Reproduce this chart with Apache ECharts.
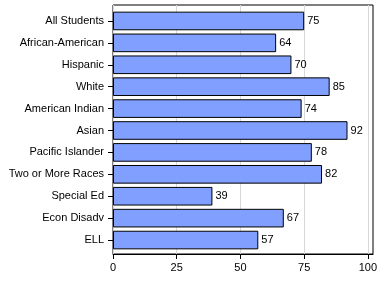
<!DOCTYPE html>
<html>
<head>
<meta charset="utf-8">
<style>html,body{margin:0;padding:0;background:#fff;}#c{width:384px;height:288px;}</style>
<script src="https://cdn.jsdelivr.net/npm/echarts@6/dist/echarts.min.js"></script>
</head>
<body>
<div id="c"></div>
<script>
var categories = ['All Students','African-American','Hispanic','White','American Indian','Asian','Pacific Islander','Two or More Races','Special Ed','Econ Disadv','ELL'];
var values = [75,64,70,85,74,92,78,82,39,67,57];
var xTicks = [0,25,50,75,100];

var FONT = 'Liberation Sans';
var chart = echarts.init(document.getElementById('c'), null, {renderer:'canvas'});
chart.setOption({
  animation:false,
  backgroundColor:'#fff',
  textStyle:{fontFamily:FONT},
  grid:[
    {left:113, right:11, top:5, bottom:34, show:true, borderColor:'#000', borderWidth:1, backgroundColor:'transparent', containLabel:false},
    {left:113, right:11, top:10, bottom:37, containLabel:false}
  ],
  xAxis:[
    {type:'value', gridIndex:0, min:0, max:102,
     axisLine:{show:true, onZero:false, lineStyle:{color:'#000', width:1}},
     axisTick:{show:true, length:5, inside:false, customValues:xTicks, lineStyle:{color:'#000'}},
     axisLabel:{show:true, margin:8, customValues:xTicks, color:'#000', fontSize:11, fontFamily:FONT},
     splitLine:{show:true, lineStyle:{color:'#d8d8d8', width:1}}},
    {type:'value', gridIndex:1, min:0, max:102, show:false}
  ],
  yAxis:[
    {type:'value', gridIndex:0, show:false},
    {type:'category', gridIndex:1, data:categories, inverse:true,
     axisLine:{show:false},
     axisTick:{show:true, length:5, inside:false, alignWithLabel:true, lineStyle:{color:'#000'}},
     axisLabel:{margin:9, color:'#000', fontSize:11, fontFamily:FONT},
     splitLine:{show:false}}
  ],
  series:[{
    type:'bar', xAxisIndex:1, yAxisIndex:1, data:values,
    barCategoryGap:'15%',
    itemStyle:{color:'#809FFF', borderColor:'#000', borderWidth:1},
    label:{show:true, position:'right', distance:3, color:'#000', fontSize:11, fontFamily:FONT}
  }]
});
</script>
</body>
</html>
